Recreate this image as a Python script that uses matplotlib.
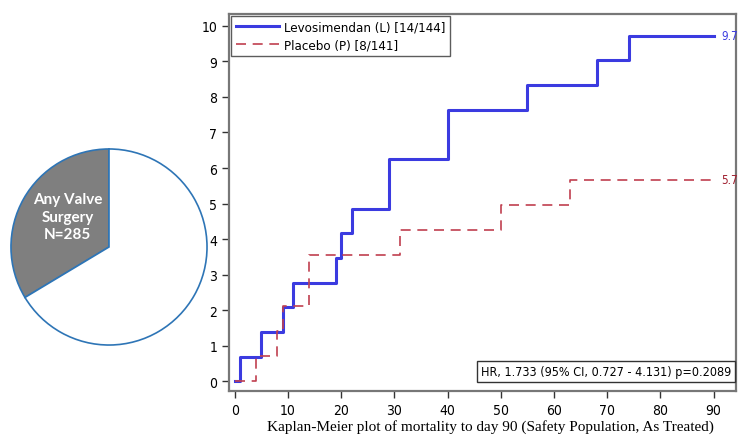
import numpy as np
import matplotlib.pyplot as plt

# Kaplan-Meier step data (days, cumulative mortality %)
levo_days = [0, 1, 5, 9, 11, 19, 20, 22, 29, 40, 55, 68, 74, 90]
levo_pct = [0, 0.69, 1.39, 2.08, 2.78, 3.47, 4.17, 4.86, 6.25, 7.64, 8.33, 9.03, 9.72, 9.72]
plac_days = [0, 4, 8, 9, 14, 31, 50, 63, 90]
plac_pct = [0, 0.71, 1.42, 2.13, 3.55, 4.26, 4.96, 5.67, 5.67]

pie_values = [285, 563]
pie_label = 'Any Valve\nSurgery\nN=285'

narrow = dict(family='DejaVu Sans', stretch='condensed')
blue = '#3b3be0'
red = '#c0404f'

fig = plt.figure(figsize=(7.38, 4.39), dpi=100)

# pie on the left
pax = fig.add_axes([10 / 738, 1 - 347 / 439, 198 / 738, 198 / 439])
pax.pie(pie_values, colors=['#7f7f7f', 'white'], startangle=90,
        wedgeprops=dict(edgecolor='#2e75b6', linewidth=1.2))
pax.text(-0.42, 0.31, pie_label, ha='center', va='center', color='white',
         fontsize=11, fontweight='bold', family='Lato', linespacing=1.3)
pax.set_xlim(-1.01, 1.01)
pax.set_ylim(-1.01, 1.01)
pax.set_aspect('equal')

# KM plot
ax = fig.add_axes([229 / 738, 1 - 392 / 439, 507 / 738, 377 / 439])
ax.step(levo_days, levo_pct, where='post', color=blue, lw=2.2,
        label='Levosimendan (L) [14/144]')
ax.step(plac_days, plac_pct, where='post', color=red, lw=1.2,
        dashes=(6, 4), label='Placebo (P) [8/141]')
ax.text(91.5, levo_pct[-1], '9.7', color=blue, fontsize=8.5, va='center', **narrow)
ax.text(91.5, plac_pct[-1], '5.7', color='#a02030', fontsize=8.5, va='center', **narrow)

ax.set_xlim(-1.1, 94.2)
ax.set_ylim(-0.27, 10.33)
ax.set_xticks(range(0, 100, 10))
ax.set_yticks(range(0, 11))
for lab in ax.get_xticklabels() + ax.get_yticklabels():
    lab.set_family('DejaVu Sans')
    lab.set_stretch('condensed')
    lab.set_fontsize(10)
ax.tick_params(direction='out', length=5, width=1, color='#333333')
for s in ax.spines.values():
    s.set_color('#777777')
    s.set_linewidth(1.6)

leg = ax.legend(loc='upper left', frameon=True, fancybox=False,
                prop=dict(size=9.5, **narrow), handlelength=3.3,
                borderaxespad=0.15, borderpad=0.35, labelspacing=0.4,
                handletextpad=0.4)
leg.get_frame().set_edgecolor('#333333')
leg.get_frame().set_linewidth(1)

ax.text(0.99, 0.035, 'HR, 1.733 (95% CI, 0.727 - 4.131) p=0.2089',
        transform=ax.transAxes, ha='right', va='bottom', fontsize=9,
        bbox=dict(boxstyle='square,pad=0.3', fc='white', ec='#333333', lw=1),
        **narrow)

ax.set_xlabel('Kaplan-Meier plot of mortality to day 90 (Safety Population, As Treated)',
              family='Liberation Serif', fontsize=11, labelpad=3)
ax.xaxis.set_label_coords(0.515, -0.075)

plt.savefig('out.png', dpi=100)
